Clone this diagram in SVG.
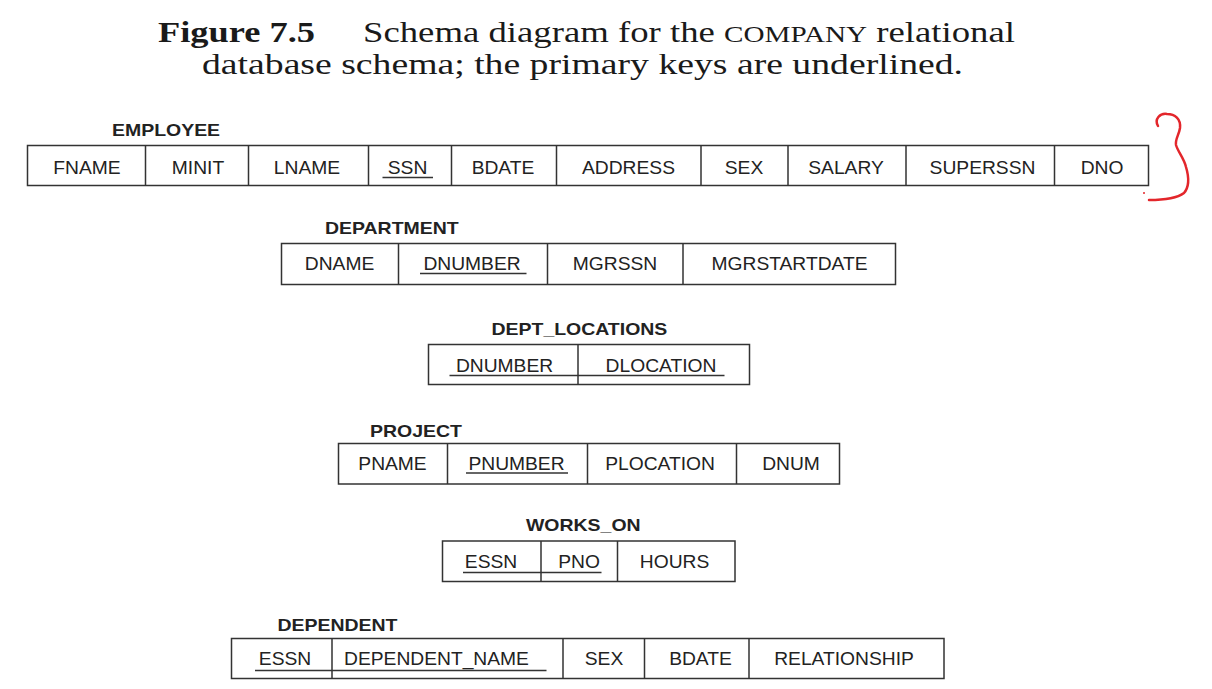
<svg xmlns="http://www.w3.org/2000/svg" width="1212" height="689" viewBox="0 0 1212 689">
<style>
.box{fill:none;stroke:#333;stroke-width:1.5}
.div{stroke:#333;stroke-width:1.5}
.ul{stroke:#333;stroke-width:1.3}
.cell{font-family:"Liberation Sans",Arial,sans-serif;font-size:17.5px;fill:#222;text-anchor:middle}
.lbl{font-family:"Liberation Sans",Arial,sans-serif;font-size:16.5px;font-weight:bold;fill:#222}
.title{font-family:"Liberation Serif","Times New Roman",serif;font-size:29px;fill:#1a1a1a}
</style>
<rect width="1212" height="689" fill="#fff"/>
<g id="title">
<text class="title" x="158" y="42" font-weight="bold" textLength="157" lengthAdjust="spacingAndGlyphs">Figure 7.5</text>
<text class="title" x="363" y="42" textLength="652" lengthAdjust="spacingAndGlyphs">Schema diagram for the <tspan font-size="23">COMPANY</tspan> relational</text>
<text class="title" x="202" y="74" textLength="761" lengthAdjust="spacingAndGlyphs">database schema; the primary keys are underlined.</text>
</g>
<g id="employee">
<text class="lbl" transform="matrix(1.18 0 0 1 112 135.5)">EMPLOYEE</text>
<rect class="box" x="27.5" y="145.5" width="1121" height="40"/>
<path class="div" d="M145.5 145.5V185.5M248.5 145.5V185.5M368.5 145.5V185.5M451.5 145.5V185.5M556.5 145.5V185.5M701 145.5V185.5M788 145.5V185.5M906 145.5V185.5M1054.5 145.5V185.5"/>
<text class="cell" transform="matrix(1.1 0 0 1 87 173.5)">FNAME</text>
<text class="cell" transform="matrix(1.1 0 0 1 198 173.5)">MINIT</text>
<text class="cell" transform="matrix(1.1 0 0 1 307 173.5)">LNAME</text>
<text class="cell" transform="matrix(1.1 0 0 1 407.5 173.5)">SSN</text>
<text class="cell" transform="matrix(1.1 0 0 1 503 173.5)">BDATE</text>
<text class="cell" transform="matrix(1.1 0 0 1 628.5 173.5)">ADDRESS</text>
<text class="cell" transform="matrix(1.1 0 0 1 744 173.5)">SEX</text>
<text class="cell" transform="matrix(1.1 0 0 1 846 173.5)">SALARY</text>
<text class="cell" transform="matrix(1.1 0 0 1 982.5 173.5)">SUPERSSN</text>
<text class="cell" transform="matrix(1.1 0 0 1 1102 173.5)">DNO</text>
<line class="ul" x1="382.5" y1="177.5" x2="433" y2="177.5"/>
</g>
<g id="department">
<text class="lbl" transform="matrix(1.18 0 0 1 325 234)">DEPARTMENT</text>
<rect class="box" x="281.5" y="243.5" width="614" height="41"/>
<path class="div" d="M398.5 243.5V284.5M547.5 243.5V284.5M683 243.5V284.5"/>
<text class="cell" transform="matrix(1.1 0 0 1 339.5 270)">DNAME</text>
<text class="cell" transform="matrix(1.1 0 0 1 472 270)">DNUMBER</text>
<text class="cell" transform="matrix(1.1 0 0 1 615 270)">MGRSSN</text>
<text class="cell" transform="matrix(1.1 0 0 1 789.5 270)">MGRSTARTDATE</text>
<line class="ul" x1="420" y1="273.5" x2="526.5" y2="273.5"/>
</g>
<g id="dept_locations">
<text class="lbl" transform="matrix(1.18 0 0 1 491.5 335)">DEPT_LOCATIONS</text>
<rect class="box" x="428.5" y="344.5" width="321" height="40"/>
<path class="div" d="M578 344.5V384.5"/>
<text class="cell" transform="matrix(1.1 0 0 1 504.5 371.5)">DNUMBER</text>
<text class="cell" transform="matrix(1.1 0 0 1 661 371.5)">DLOCATION</text>
<line class="ul" x1="449.5" y1="375.5" x2="724.5" y2="375.5"/>
</g>
<g id="project">
<text class="lbl" transform="matrix(1.18 0 0 1 370 436.5)">PROJECT</text>
<rect class="box" x="338.5" y="443.5" width="501" height="40.5"/>
<path class="div" d="M447.5 443.5V484M587.5 443.5V484M736.5 443.5V484"/>
<text class="cell" transform="matrix(1.1 0 0 1 392.5 469.5)">PNAME</text>
<text class="cell" transform="matrix(1.1 0 0 1 516.5 469.5)">PNUMBER</text>
<text class="cell" transform="matrix(1.1 0 0 1 660 469.5)">PLOCATION</text>
<text class="cell" transform="matrix(1.1 0 0 1 791 469.5)">DNUM</text>
<line class="ul" x1="466" y1="473" x2="568" y2="473"/>
</g>
<g id="works_on">
<text class="lbl" transform="matrix(1.18 0 0 1 526 530.5)">WORKS_ON</text>
<rect class="box" x="442.5" y="541" width="292.5" height="40.5"/>
<path class="div" d="M541 541V581.5M617.5 541V581.5"/>
<text class="cell" transform="matrix(1.1 0 0 1 491 568)">ESSN</text>
<text class="cell" transform="matrix(1.1 0 0 1 579 568)">PNO</text>
<text class="cell" transform="matrix(1.1 0 0 1 674.5 568)">HOURS</text>
<line class="ul" x1="463" y1="572.5" x2="601.5" y2="572.5"/>
</g>
<g id="dependent">
<text class="lbl" transform="matrix(1.18 0 0 1 277.5 630.5)">DEPENDENT</text>
<rect class="box" x="231.5" y="638.5" width="712.5" height="40"/>
<path class="div" d="M332 638.5V678.5M563 638.5V678.5M644.5 638.5V678.5M749 638.5V678.5"/>
<text class="cell" transform="matrix(1.1 0 0 1 285 664.5)">ESSN</text>
<text class="cell" transform="matrix(1.1 0 0 1 436.5 664.5)">DEPENDENT_NAME</text>
<text class="cell" transform="matrix(1.1 0 0 1 604 664.5)">SEX</text>
<text class="cell" transform="matrix(1.1 0 0 1 700.5 664.5)">BDATE</text>
<text class="cell" transform="matrix(1.1 0 0 1 844 664.5)">RELATIONSHIP</text>
<line class="ul" x1="255" y1="670.5" x2="546.5" y2="670.5"/>
</g>
<g id="connectors"></g>
<g id="annotation" fill="none" stroke="#e3262b" stroke-width="2.5" stroke-linecap="round" stroke-linejoin="round">
<path d="M1158 126C1154 119 1160 113 1167 114C1175 114 1181 119 1180 128C1179 135 1175 139 1176 145C1178 152 1184 158 1186 167C1189 177 1190 186 1184 193C1176 199 1162 200 1149 200"/>
<circle cx="1144" cy="193" r="1" fill="#e3262b" stroke="none"/>
</g>
</svg>
